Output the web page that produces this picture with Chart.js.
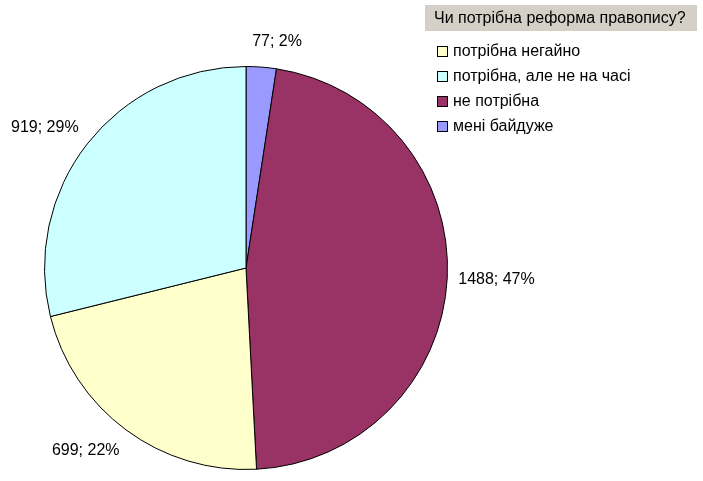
<!DOCTYPE html>
<html>
<head>
<meta charset="utf-8">
<script src="https://cdn.jsdelivr.net/npm/chart.js@4/dist/chart.umd.min.js"></script>
<style>
  body { margin: 0; background: #fff; font-family: "Liberation Sans", Arial, sans-serif; }
  #wrap { position: relative; width: 703px; height: 481px; }
  #legend { position: absolute; left: 425px; top: 5px; }
  #legend .title { background: #d4d0c8; font-size: 16px; padding: 4px 5px 4px 9px; width: 258px; white-space: nowrap; margin-bottom: 7px; }
  #legend .item { font-size: 16px; height: 25px; line-height: 25px; margin-left: 12px; white-space: nowrap; }
  #legend .box { display: inline-block; width: 9px; height: 9px; border: 1px solid #000; margin-right: 5px; vertical-align: -1px; }
</style>
</head>
<body>
<div id="wrap">
  <canvas id="pie" width="703" height="481"></canvas>
  <div id="legend"></div>
</div>
<script>
// дані (порядок малювання за годинниковою стрілкою від верху)
const labels = ["мені байдуже", "не потрібна", "потрібна негайно", "потрібна, але не на часі"];
const votes = [77, 1488, 699, 919];
const percents = [2, 47, 22, 29];
const colors = ["#9999ff", "#993366", "#ffffcc", "#ccffff"];
const legendTitle = "Чи потрібна реформа правопису?";
const legendOrder = ["потрібна негайно", "потрібна, але не на часі", "не потрібна", "мені байдуже"];

// легенда
const legend = document.getElementById("legend");
legend.innerHTML = `<div class="title">${legendTitle}</div>`;
legendOrder.forEach((name) => {
  const i = labels.indexOf(name);
  const row = document.createElement("div");
  row.className = "item";
  row.innerHTML = `<span class="box" style="background:${colors[i]}"></span>${name}`;
  legend.appendChild(row);
});

// підписи біля секторів
const outsideLabels = {
  id: "outsideLabels",
  afterDatasetsDraw(chart) {
    const ctx = chart.ctx;
    const meta = chart.getDatasetMeta(0);
    ctx.save();
    ctx.font = '16px "Liberation Sans", Arial, sans-serif';
    ctx.fillStyle = "#000";
    ctx.textBaseline = "middle";
    meta.data.forEach((arc, i) => {
      const mid = (arc.startAngle + arc.endAngle) / 2;
      const r = arc.outerRadius;
      const cos = Math.cos(mid);
      const x = arc.x + cos * (r + 11);
      const y = arc.y + Math.sin(mid) * (r + 26);
      const text = votes[i] + "; " + percents[i] + "%";
      // біля верху підпис майже по центру
      if (Math.abs(cos) < 0.2) {
        ctx.textAlign = "left";
        ctx.fillText(text, x - ctx.measureText(text).width * 0.2, y);
      } else {
        ctx.textAlign = cos >= 0 ? "left" : "right";
        ctx.fillText(text, x, y);
      }
    });
    ctx.restore();
  },
};

new Chart(document.getElementById("pie"), {
  type: "pie",
  data: {
    labels: labels,
    datasets: [
      {
        data: votes,
        backgroundColor: colors,
        borderColor: "#000",
        borderWidth: 1,
      },
    ],
  },
  options: {
    responsive: false,
    animation: false,
    layout: { padding: { left: 44, right: 255, top: 66, bottom: 11 } },
    plugins: {
      legend: { display: false },
      tooltip: { enabled: false },
    },
  },
  plugins: [outsideLabels],
});
</script>
</body>
</html>
